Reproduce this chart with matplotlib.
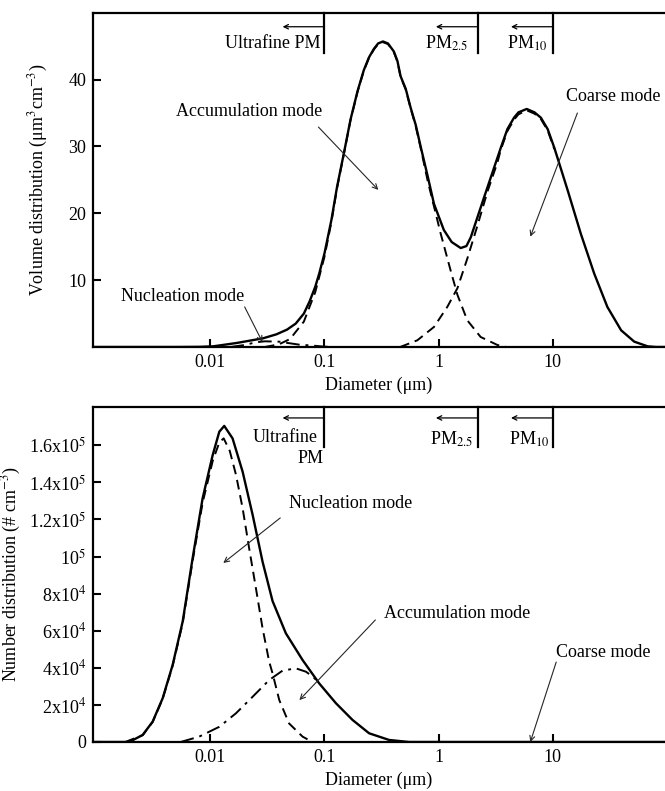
import matplotlib
matplotlib.use("Agg")
import matplotlib.pyplot as plt

plt.rcParams['font.family'] = ['Liberation Serif', 'DejaVu Serif']
plt.rcParams['mathtext.fontset'] = 'stix'
plt.rcParams['font.size'] = 13

# ---- volume distribution (top panel) ----
vol_d_total = [0.00094, 0.005, 0.008, 0.0106, 0.017, 0.029, 0.038, 0.047, 0.056, 0.066,
               0.074, 0.083, 0.09, 0.1, 0.115, 0.129, 0.148, 0.169, 0.195, 0.221,
               0.245, 0.271, 0.295, 0.325, 0.36, 0.405, 0.435, 0.464, 0.515, 0.568,
               0.63, 0.695, 0.8, 0.91, 1.11, 1.3, 1.56, 1.75, 1.91, 2.5, 3.5, 4.0,
               4.57, 5.0, 5.9, 6.9, 7.85, 9.0, 10.3, 13.5, 17.6, 23, 30, 39.6, 51.6,
               67.6, 80, 96]
vol_total = [0, 0, 0.02, 0.1, 0.6, 1.3, 1.9, 2.6, 3.5, 5.0,
             6.8, 9.0, 11.0, 14.0, 19.0, 24.0, 29.0, 34.0, 38.3, 41.4,
             43.3, 44.6, 45.4, 45.7, 45.4, 44.2, 42.8, 40.5, 38.6, 35.8,
             33.2, 30.0, 25.6, 21.4, 17.5, 15.7, 14.8, 15.1, 16.4, 22.4, 29.8, 32.6,
             34.3, 35.1, 35.6, 35.1, 34.3, 32.6, 29.8, 23.4, 16.9, 11.0, 6.0, 2.5, 0.8,
             0.1, 0, 0]

vol_d_acc = [0.03, 0.04, 0.05, 0.066, 0.083, 0.1, 0.115, 0.129, 0.148, 0.169, 0.195,
             0.221, 0.245, 0.271, 0.295, 0.325, 0.36, 0.405, 0.435, 0.464, 0.515,
             0.568, 0.63, 0.695, 0.8, 1.04, 1.27, 1.46, 1.78, 2.33, 3.27, 3.9]
vol_acc = [0, 0.4, 1.2, 3.8, 8.2, 13.5, 18.7, 23.8, 28.9, 33.9, 38.2,
           41.3, 43.2, 44.5, 45.3, 45.6, 45.3, 44.1, 42.7, 40.4, 38.5,
           35.7, 33.0, 29.8, 24.9, 17.0, 11.5, 7.8, 4.0, 1.5, 0.3, 0]

vol_d_coarse = [0.46, 0.65, 0.91, 1.19, 1.46, 1.78, 2.19, 2.67, 3.27, 3.5, 4.0, 4.57,
                5.0, 5.9, 6.9, 7.85, 9.0, 10.3]
vol_coarse = [0, 1.0, 3.0, 6.0, 8.8, 13.2, 18.2, 23.2, 27.6, 29.5, 32.3, 34.0,
              34.8, 35.4, 34.9, 34.1, 32.4, 29.6]

vol_d_nuc = [0.015, 0.02, 0.025, 0.03, 0.04, 0.05, 0.06, 0.08, 0.1, 0.12]
vol_nuc = [0, 0.3, 0.7, 0.85, 0.8, 0.55, 0.35, 0.2, 0.05, 0]

# ---- number distribution (bottom panel) ----
num_d_total = [0.00094, 0.00195, 0.00256, 0.00313, 0.00383, 0.00468, 0.00573, 0.0070,
               0.00857, 0.0105, 0.012, 0.01325, 0.01567, 0.0192, 0.0235, 0.0287,
               0.0351, 0.0459, 0.0643, 0.0899, 0.126, 0.176, 0.246, 0.368, 0.55, 96]
num_total = [0, 0, 3.8e3, 1.1e4, 2.36e4, 4.15e4, 6.49e4, 9.9e4,
             1.314e5, 1.547e5, 1.673e5, 1.704e5, 1.637e5, 1.457e5, 1.224e5, 9.72e4,
             7.6e4, 5.86e4, 4.42e4, 3.16e4, 2.09e4, 1.19e4, 4.7e3, 1.1e3, 0, 0]

num_d_nuc = [0.0018, 0.00256, 0.00313, 0.00383, 0.00468, 0.00573, 0.0070, 0.00857,
             0.0105, 0.012, 0.0131, 0.0148, 0.0168, 0.0192, 0.0219, 0.0251, 0.0287,
             0.0328, 0.0351, 0.0402, 0.049, 0.0643, 0.0785]
num_nuc = [0, 3.7e3, 1.08e4, 2.33e4, 4.1e4, 6.4e4, 9.75e4, 1.29e5,
           1.515e5, 1.615e5, 1.637e5, 1.57e5, 1.44e5, 1.26e5, 1.044e5, 8.29e4, 6.13e4,
           4.33e4, 3.7e4, 2.26e4, 1.0e4, 2.9e3, 0]

num_d_acc = [0.0055, 0.008, 0.012, 0.0168, 0.0235, 0.0328, 0.043, 0.0562, 0.0688,
             0.08, 0.09]
num_acc = [0, 2.9e3, 8.2e3, 1.55e4, 2.44e4, 3.34e4, 3.85e4, 3.97e4, 3.79e4,
           3.5e4, 3.16e4]

# size cut-offs marked at the top of both panels
pm_cuts = [0.1, 2.2, 10]

x_ticks = [0.01, 0.1, 1, 10]
x_ticklabels = ['0.01', '0.1', '1', '10']
vol_yticks = [10, 20, 30, 40]
num_yticks = [0, 2e4, 4e4, 6e4, 8e4, 1e5, 1.2e5, 1.4e5, 1.6e5]
num_yticklabels = ['0', '2x10$^4$', '4x10$^4$', '6x10$^4$', '8x10$^4$', '10$^5$',
                   '1.2x10$^5$', '1.4x10$^5$', '1.6x10$^5$']

XLIM = (10 ** -3.027, 10 ** 1.982)
ARROW = dict(arrowstyle='->', lw=0.8, color='0.15', shrinkA=0, shrinkB=0,
             mutation_scale=9)


def style_axes(ax):
    ax.set_xscale('log')
    ax.set_xlim(*XLIM)
    ax.set_xticks(x_ticks)
    ax.set_xticklabels(x_ticklabels)
    ax.minorticks_off()
    ax.tick_params(direction='in', length=6, width=1.5, labelsize=13, pad=5)
    for s in ['left', 'top', 'bottom']:
        ax.spines[s].set_linewidth(1.6)
    ax.spines['right'].set_visible(False)
    ax.set_xlabel('Diameter (μm)')


def draw_cuts(ax, y_low, y_high, y_arrow):
    for x in pm_cuts:
        ax.plot([x, x], [y_low, y_high], color='k', lw=1.6, clip_on=False)
        ax.annotate('', xy=(x * 0.43, y_arrow), xytext=(x, y_arrow),
                    arrowprops=dict(arrowstyle='->', lw=0.9, color='k',
                                    shrinkA=0, shrinkB=0, mutation_scale=8))


fig = plt.figure(figsize=(6.65, 7.91), dpi=100)
ax1 = fig.add_axes([93 / 665, 1 - 347 / 791, 572 / 665, 334.3 / 791])
ax2 = fig.add_axes([93 / 665, 1 - 742 / 791, 572 / 665, 335 / 791])

# top panel: volume
ax1.plot(vol_d_acc, vol_acc, color='k', lw=1.4, ls=(0, (5, 3)), zorder=2)
ax1.plot(vol_d_coarse, vol_coarse, color='k', lw=1.4, ls=(0, (5, 3)), zorder=2)
ax1.plot(vol_d_nuc, vol_nuc, color='k', lw=1.4, ls=(0, (7, 3, 1.5, 3)), zorder=2)
ax1.plot(vol_d_total, vol_total, color='k', lw=1.7, zorder=3)
style_axes(ax1)
ax1.set_ylim(0, 50)
ax1.set_yticks(vol_yticks)
ax1.set_ylabel('Volume distribution (μm$^3$cm$^{-3}$)')
ax1.yaxis.set_label_coords(-0.075, 0.5)
ax1.xaxis.set_label_coords(0.5, -0.09)

draw_cuts(ax1, 44.0, 50, 47.9)
ax1.text(0.092, 44.7, 'Ultrafine PM', ha='right', va='baseline')
ax1.text(1.8, 44.7, 'PM$_{2.5}$', ha='right', va='baseline')
ax1.text(8.9, 44.7, 'PM$_{10}$', ha='right', va='baseline')

ax1.text(0.022, 35.2, 'Accumulation mode', ha='center', va='center')
ax1.annotate('', xy=(0.296, 23.5), xytext=(0.0885, 32.9), arrowprops=ARROW)
ax1.text(33.7, 37.4, 'Coarse mode', ha='center', va='center')
ax1.annotate('', xy=(6.35, 16.5), xytext=(16.4, 35.0), arrowprops=ARROW)
ax1.text(0.0057, 7.5, 'Nucleation mode', ha='center', va='center')
ax1.annotate('', xy=(0.0286, 0.75), xytext=(0.02, 6.0), arrowprops=ARROW)

# bottom panel: number
ax2.plot(num_d_nuc, num_nuc, color='k', lw=1.4, ls=(0, (5, 3)), zorder=2)
ax2.plot(num_d_acc, num_acc, color='k', lw=1.4, ls=(0, (7, 3, 1.5, 3)), zorder=2)
ax2.plot(num_d_total, num_total, color='k', lw=1.7, zorder=3)
style_axes(ax2)
ax2.set_ylim(0, 1.806e5)
ax2.set_yticks(num_yticks)
ax2.set_yticklabels(num_yticklabels)
ax2.set_ylabel('Number distribution (# cm$^{-3}$)')
ax2.yaxis.set_label_coords(-0.122, 0.5)
ax2.xaxis.set_label_coords(0.5, -0.09)

draw_cuts(ax2, 1.59e5, 1.806e5, 1.747e5)
ax2.text(0.0865, 1.616e5, 'Ultrafine', ha='right', va='baseline')
ax2.text(0.098, 1.502e5, 'PM', ha='right', va='baseline')
ax2.text(2.0, 1.605e5, 'PM$_{2.5}$', ha='right', va='baseline')
ax2.text(9.4, 1.605e5, 'PM$_{10}$', ha='right', va='baseline')

ax2.text(0.169, 1.288e5, 'Nucleation mode', ha='center', va='center')
ax2.annotate('', xy=(0.013, 9.65e4), xytext=(0.041, 1.208e5), arrowprops=ARROW)
ax2.text(1.45, 6.95e4, 'Accumulation mode', ha='center', va='center')
ax2.annotate('', xy=(0.0603, 2.26e4), xytext=(0.279, 6.58e4), arrowprops=ARROW)
ax2.text(27.6, 4.85e4, 'Coarse mode', ha='center', va='center')
ax2.annotate('', xy=(6.35, 0), xytext=(10.7, 4.31e4), arrowprops=ARROW)

fig.savefig('out.png', dpi=100)
